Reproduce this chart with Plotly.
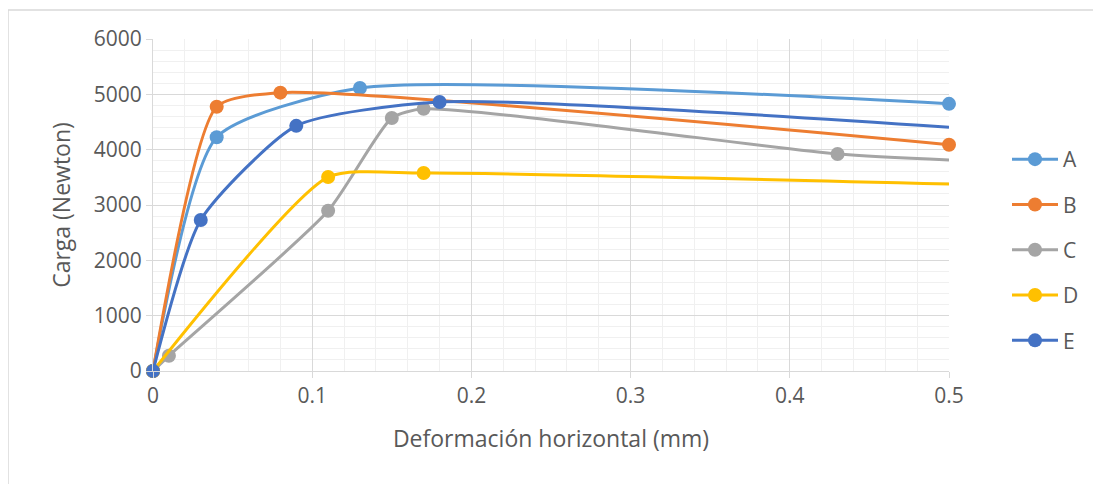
import plotly.graph_objects as go

series_names = ["A", "B", "C", "D", "E"]
colors = ["#5B9BD5", "#ED7D31", "#A5A5A5", "#FFC000", "#4472C4"]

a_x = [0, 0.04, 0.13, 0.5]
a_y = [0, 4225, 5115, 4828]
b_x = [0, 0.04, 0.08, 0.5]
b_y = [0, 4775, 5030, 4090]
c_x = [0, 0.01, 0.11, 0.15, 0.17, 0.43, 0.5]
c_y = [0, 275, 2895, 4572, 4738, 3922, 3815]
d_x = [0, 0.11, 0.17, 0.5]
d_y = [0, 3505, 3578, 3380]
e_x = [0, 0.03, 0.09, 0.18, 0.5]
e_y = [0, 2730, 4430, 4862, 4405]

# marker shown (1) or not (0) at each point
a_m = [1, 1, 1, 1]
b_m = [1, 1, 1, 1]
c_m = [1, 1, 1, 1, 1, 1, 0]
d_m = [1, 1, 1, 0]
e_m = [1, 1, 1, 1, 0]

x_ticks = [0, 0.1, 0.2, 0.3, 0.4, 0.5]
x_tick_labels = ["0", "0.1", "0.2", "0.3", "0.4", "0.5"]

xs = [a_x, b_x, c_x, d_x, e_x]
ys = [a_y, b_y, c_y, d_y, e_y]
ms = [a_m, b_m, c_m, d_m, e_m]

# figure coordinates (page has an 8px body margin)
L, R, T, B = 145, 941, 31, 363
W, H = 1101, 484

fig = go.Figure()
font_family = "Open Sans, Noto Sans, sans-serif"
for name, col, x, y, m in zip(series_names, colors, xs, ys, ms):
    fig.add_trace(go.Scatter(
        x=x, y=y, name=name, mode="lines+markers",
        line=dict(color=col, width=3, shape="spline", smoothing=0.6),
        marker=dict(color=[col if v else "rgba(0,0,0,0)" for v in m], size=14, opacity=1),
        legendgroup=name, cliponaxis=False,
    ))

axis_common = dict(
    showgrid=True, gridcolor="#D9D9D9", gridwidth=1,
    showline=True, linecolor="#D9D9D9", linewidth=1,
    ticks="outside", tickcolor="#D9D9D9", ticklen=6,
    tickfont=dict(family=font_family, size=21, color="#595959"),
    zeroline=False,
    minor=dict(showgrid=True, gridcolor="#F0F0F0", gridwidth=1),
)

fig.update_xaxes(range=[0, 0.5], tickvals=x_ticks, ticktext=x_tick_labels,
                 title=dict(text="Deformación horizontal (mm)", standoff=22,
                            font=dict(family=font_family, size=23, color="#595959")),
                 **axis_common)
fig.update_xaxes(minor=dict(tickvals=[i * 0.02 for i in range(26)]))
fig.update_yaxes(range=[0, 6000], dtick=1000,
                 title=dict(text="Carga (Newton)", standoff=16,
                            font=dict(family=font_family, size=23, color="#595959")),
                 **axis_common)
fig.update_yaxes(minor_dtick=200)

pw, ph = R - L, B - T
fig.add_shape(type="rect", xref="paper", yref="paper",
              x0=(0 - L) / pw, x1=(W + 20 - L) / pw,
              y0=(B - (H + 20)) / ph, y1=(B - 2) / ph,
              line=dict(color="#D9D9D9", width=1.5), layer="below")

fig.update_layout(
    width=W, height=H,
    margin=dict(l=L, r=W - R, t=T, b=H - B),
    paper_bgcolor="white", plot_bgcolor="white",
    font=dict(family=font_family, color="#595959"),
    legend=dict(x=(999 - L) / pw, y=(B - 242) / ph, xanchor="left", yanchor="middle",
                font=dict(size=21, color="#595959"), tracegroupgap=15,
                itemwidth=46, bgcolor="rgba(0,0,0,0)"),
    showlegend=True,
)

fig.write_html("out.html")
